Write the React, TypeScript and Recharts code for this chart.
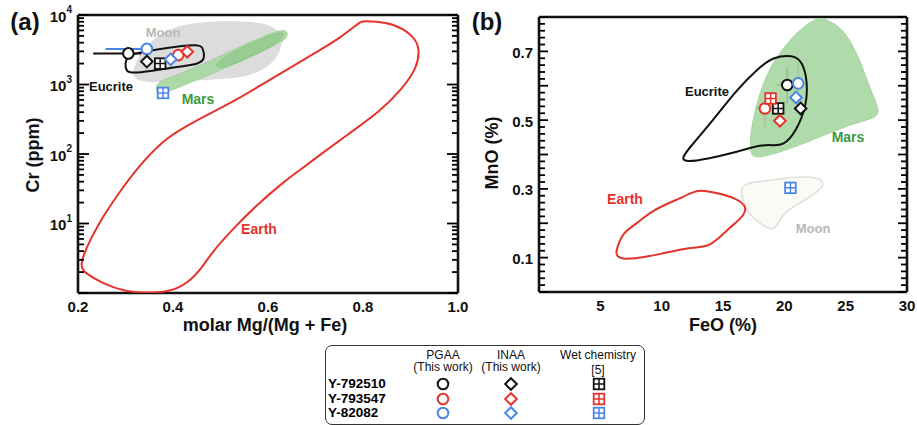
import React from 'react';
import { ScatterChart, Scatter, XAxis, YAxis, ErrorBar } from 'recharts';

const FONT = '"Liberation Sans", Arial, sans-serif';
const SAMPLES = ['Y-792510', 'Y-793547', 'Y-82082'];
const SAMPLE_COLORS: Record<string, string> = {
  'Y-792510': '#111111',
  'Y-793547': '#e5332a',
  'Y-82082': '#4a86e8',
};

// ---- (a) Cr (ppm) vs molar Mg/(Mg + Fe) ----
const aEarth = [
  { x: 0.8, y: 8200 }, { x: 0.85, y: 7850 }, { x: 0.884, y: 6470 }, { x: 0.913, y: 4370 },
  { x: 0.919, y: 2960 }, { x: 0.913, y: 1730 }, { x: 0.884, y: 890 }, { x: 0.836, y: 410 },
  { x: 0.766, y: 187 }, { x: 0.709, y: 97 }, { x: 0.681, y: 69 }, { x: 0.629, y: 38 },
  { x: 0.573, y: 17.5 }, { x: 0.524, y: 8.1 }, { x: 0.481, y: 3.77 }, { x: 0.463, y: 2.4 },
  { x: 0.432, y: 1.39 }, { x: 0.394, y: 1.04 }, { x: 0.347, y: 1.0 }, { x: 0.299, y: 1.04 },
  { x: 0.25, y: 1.39 }, { x: 0.215, y: 1.94 }, { x: 0.204, y: 2.39 }, { x: 0.215, y: 4.16 },
  { x: 0.243, y: 10 }, { x: 0.285, y: 27 }, { x: 0.327, y: 66 }, { x: 0.38, y: 159 },
  { x: 0.421, y: 237 }, { x: 0.471, y: 363 }, { x: 0.541, y: 640 }, { x: 0.597, y: 1100 },
  { x: 0.646, y: 1730 }, { x: 0.703, y: 2960 }, { x: 0.752, y: 4660 }, { x: 0.794, y: 8000 },
];
const aMoon = [
  { x: 0.312, y: 1510 }, { x: 0.335, y: 3140 }, { x: 0.375, y: 5690 }, { x: 0.425, y: 7420 },
  { x: 0.488, y: 8180 }, { x: 0.562, y: 8180 }, { x: 0.608, y: 7180 }, { x: 0.632, y: 5130 },
  { x: 0.627, y: 2940 }, { x: 0.604, y: 1840 }, { x: 0.562, y: 1320 }, { x: 0.509, y: 1200 },
  { x: 0.436, y: 1120 }, { x: 0.355, y: 1050 }, { x: 0.32, y: 1160 },
];
const aMars = [
  { x: 0.362, y: 830 }, { x: 0.373, y: 705 }, { x: 0.415, y: 930 }, { x: 0.492, y: 1520 },
  { x: 0.562, y: 2510 }, { x: 0.625, y: 3920 }, { x: 0.643, y: 4880 }, { x: 0.639, y: 6060 },
  { x: 0.625, y: 6060 }, { x: 0.562, y: 4120 }, { x: 0.484, y: 2250 }, { x: 0.4, y: 1290 },
  { x: 0.368, y: 1100 },
];
const aMarsCore = [
  { x: 0.481, y: 2130 }, { x: 0.492, y: 1450 }, { x: 0.625, y: 3920 }, { x: 0.639, y: 5750 },
  { x: 0.611, y: 5480 },
];
const aEucrite = [
  { x: 0.303, y: 2500 }, { x: 0.32, y: 2830 }, { x: 0.383, y: 3350 }, { x: 0.453, y: 3800 },
  { x: 0.463, y: 3470 }, { x: 0.467, y: 2400 }, { x: 0.459, y: 1970 }, { x: 0.394, y: 1740 },
  { x: 0.314, y: 1420 }, { x: 0.301, y: 1550 }, { x: 0.299, y: 2040 },
];
const aPGAA = [
  { sample: 'Y-792510', x: 0.306, y: 2800, ex: [0.074, 0.094] },
  { sample: 'Y-793547', x: 0.411, y: 2650, ex: [0.081, 0.079] },
  { sample: 'Y-82082', x: 0.345, y: 3250, ex: [0.087, 0.049] },
];
const aINAA = [
  { sample: 'Y-792510', x: 0.345, y: 2140 },
  { sample: 'Y-793547', x: 0.43, y: 2960 },
  { sample: 'Y-82082', x: 0.395, y: 2300 },
];
const aWet = [
  { sample: 'Y-792510', x: 0.373, y: 2000 },
  { sample: 'Y-82082', x: 0.379, y: 755 },
];

// ---- (b) MnO (%) vs FeO (%) ----
const bMars = [
  { x: 23.1, y: 0.797 }, { x: 24.8, y: 0.771 }, { x: 26.2, y: 0.675 }, { x: 27.0, y: 0.588 },
  { x: 27.8, y: 0.53 }, { x: 27.5, y: 0.506 }, { x: 25.6, y: 0.49 }, { x: 23.5, y: 0.46 },
  { x: 22.1, y: 0.44 }, { x: 20.2, y: 0.413 }, { x: 18.0, y: 0.39 }, { x: 17.2, y: 0.393 },
  { x: 17.2, y: 0.46 }, { x: 17.8, y: 0.56 }, { x: 18.8, y: 0.655 }, { x: 20.2, y: 0.724 },
  { x: 21.5, y: 0.771 }, { x: 22.7, y: 0.797 },
];
const bEucrite = [
  { x: 11.5, y: 0.387 }, { x: 12.6, y: 0.433 }, { x: 14.2, y: 0.5 }, { x: 16.1, y: 0.588 },
  { x: 18.0, y: 0.655 }, { x: 19.1, y: 0.684 }, { x: 20.7, y: 0.69 }, { x: 21.5, y: 0.67 },
  { x: 21.9, y: 0.61 }, { x: 21.8, y: 0.54 }, { x: 21.0, y: 0.47 }, { x: 19.9, y: 0.422 },
  { x: 18.8, y: 0.43 }, { x: 17.4, y: 0.422 }, { x: 15.8, y: 0.404 }, { x: 13.7, y: 0.387 },
  { x: 12.1, y: 0.378 },
];
const bEarth = [
  { x: 13.1, y: 0.297 }, { x: 14.5, y: 0.288 }, { x: 16.1, y: 0.273 }, { x: 17.0, y: 0.247 },
  { x: 16.6, y: 0.218 }, { x: 15.6, y: 0.189 }, { x: 14.5, y: 0.151 }, { x: 13.7, y: 0.131 },
  { x: 12.6, y: 0.131 }, { x: 10.1, y: 0.113 }, { x: 8.8, y: 0.102 }, { x: 6.8, y: 0.093 },
  { x: 6.2, y: 0.108 }, { x: 6.4, y: 0.131 }, { x: 6.8, y: 0.172 }, { x: 8.0, y: 0.2 },
  { x: 9.3, y: 0.239 }, { x: 11.2, y: 0.268 }, { x: 12.6, y: 0.291 },
];
const bMoon = [
  { x: 16.4, y: 0.306 }, { x: 17.2, y: 0.32 }, { x: 19.4, y: 0.326 }, { x: 20.7, y: 0.335 },
  { x: 22.9, y: 0.335 }, { x: 23.3, y: 0.311 }, { x: 22.6, y: 0.288 }, { x: 21.0, y: 0.253 },
  { x: 19.9, y: 0.23 }, { x: 19.4, y: 0.189 }, { x: 18.8, y: 0.18 }, { x: 18.0, y: 0.2 },
  { x: 17.0, y: 0.23 }, { x: 16.6, y: 0.268 },
];
const bPGAA = [
  { sample: 'Y-792510', x: 20.24, y: 0.602, ex: [0.84, 0.76], ey: [0.053, 0.053] },
  { sample: 'Y-793547', x: 18.42, y: 0.534, ex: [0.72, 0.78], ey: [0.053, 0.049] },
  { sample: 'Y-82082', x: 21.13, y: 0.607, ex: [0.53, 0.82], ey: [0.058, 0.058] },
];
const bINAA = [
  { sample: 'Y-792510', x: 21.33, y: 0.534 },
  { sample: 'Y-793547', x: 19.64, y: 0.498 },
  { sample: 'Y-82082', x: 20.95, y: 0.566 },
];
const bWet = [
  { sample: 'Y-792510', x: 19.5, y: 0.534 },
  { sample: 'Y-793547', x: 18.88, y: 0.563 },
  { sample: 'Y-82082', x: 20.5, y: 0.303 },
];

// ---- ticks ----
const steps = (a: number, b: number, s: number) =>
  Array.from({ length: Math.round((b - a) / s) + 1 }, (_, i) => +(a + i * s).toFixed(4));

const aXLabels = [0.2, 0.4, 0.6, 0.8, 1.0];
const aXMajor = steps(0.2, 1.0, 0.1);
const aXTicks = steps(0.2, 1.0, 0.05);
const aYLabels = [10, 100, 1000, 10000];
const aYMajor = [1, 10, 100, 1000, 10000];
const aYTicks = [1, 10, 100, 1000].flatMap((d) => [1, 2, 3, 4, 5, 6, 7, 8, 9].map((k) => k * d)).concat(10000);

const bXLabels = [5, 10, 15, 20, 25, 30];
const bXMajor = steps(0, 30, 5);
const bXTicks = steps(0, 30, 1);
const bYLabels = [0.1, 0.3, 0.5, 0.7];
const bYMajor = steps(0, 0.8, 0.1);
const bYTicks = steps(0, 0.8, 0.02);

const near = (v: number, list: number[]) => list.some((m) => Math.abs(m - v) <= 1e-6 * Math.max(1, Math.abs(m)));

const INK = '#111';

function labelTick(side: string, fmt: (v: number) => any) {
  return (p: any) => {
    const v = p.payload.value;
    if (side === 'bottom')
      return (
        <text x={p.x} y={p.y + 19} textAnchor="middle" fontSize={15} fontWeight="bold" fill={INK} fontFamily={FONT}>
          {fmt(v)}
        </text>
      );
    return (
      <text x={p.x - 6} y={p.y + 1} textAnchor="end" dominantBaseline="central" fontSize={15} fontWeight="bold" fill={INK} fontFamily={FONT}>
        {fmt(v)}
      </text>
    );
  };
}

// inward tick mark only
function markTick(side: string, majors: number[], big: number, small: number) {
  return (p: any) => {
    const len = near(p.payload.value, majors) ? big : small;
    let d;
    if (side === 'bottom') d = `M${p.x},${p.y}V${p.y - len}`;
    else if (side === 'top') d = `M${p.x},${p.y}V${p.y + len}`;
    else if (side === 'left') d = `M${p.x},${p.y}H${p.x + len}`;
    else d = `M${p.x},${p.y}H${p.x - len}`;
    return <path d={d} stroke="#000" strokeWidth={1.8} />;
  };
}

const fmt1 = (v: number) => v.toFixed(1);
const fmtInt = (v: number) => String(v);
const fmtPow = (v: number) => (
  <>
    10
    <tspan dy={-7} fontSize={10}>
      {Math.round(Math.log10(v))}
    </tspan>
  </>
);

// ---- markers ----
const noDot = () => <g />;
const drawCircle = (cx: number, cy: number, c: string) => (
  <circle cx={cx} cy={cy} r={5.3} fill="#fff" stroke={c} strokeWidth={2} />
);
const drawDiamond = (cx: number, cy: number, c: string) => (
  <path d={`M${cx},${cy - 5.8}L${cx + 5.8},${cy}L${cx},${cy + 5.8}L${cx - 5.8},${cy}Z`} fill="#fff" stroke={c} strokeWidth={2} />
);
const drawSquare = (cx: number, cy: number, c: string) => (
  <g>
    <rect x={cx - 5.3} y={cy - 5.3} width={10.6} height={10.6} fill="#fff" stroke={c} strokeWidth={1.8} />
    <path d={`M${cx},${cy - 5.3}V${cy + 5.3}M${cx - 5.3},${cy}H${cx + 5.3}`} stroke={c} strokeWidth={1.5} />
  </g>
);
const shapeOf = (draw: typeof drawCircle) => (p: any) => draw(p.cx, p.cy, SAMPLE_COLORS[p.payload.sample]);

function region(key: string, data: any[], stroke: string, fill: string, width: number, opacity = 1) {
  return (
    <Scatter
      key={key}
      data={data}
      shape={noDot}
      line={{ stroke, fill, strokeWidth: width, fillOpacity: opacity }}
      lineJointType="basisClosed"
      isAnimationActive={false}
    />
  );
}

function samplePoints(prefix: string, pgaa: any[], inaa: any[], wet: any[], withY: boolean) {
  const out: any[] = [];
  SAMPLES.forEach((s) => {
    const d = pgaa.filter((p) => p.sample === s);
    out.push(
      <Scatter key={`${prefix}-p-${s}`} data={d} shape={shapeOf(drawCircle)} isAnimationActive={false}>
        <ErrorBar dataKey="ex" direction="x" width={0} stroke={SAMPLE_COLORS[s]} strokeWidth={2} />
        {withY && <ErrorBar dataKey="ey" direction="y" width={0} stroke={SAMPLE_COLORS[s]} strokeWidth={2} />}
      </Scatter>
    );
  });
  out.push(<Scatter key={`${prefix}-w`} data={wet} shape={shapeOf(drawSquare)} isAnimationActive={false} />);
  out.push(<Scatter key={`${prefix}-i`} data={inaa} shape={shapeOf(drawDiamond)} isAnimationActive={false} />);
  return out;
}

const frame = { stroke: INK, strokeWidth: 2.6 };

const A_SIZE = { width: 475, height: 340, margin: { top: 14, right: 16, bottom: 0, left: 0 } };
const B_SIZE = { width: 457, height: 340, margin: { top: 16, right: 9, bottom: 0, left: 0 } };

function PanelA() {
  return (
    <ScatterChart {...A_SIZE}>
      <XAxis type="number" dataKey="x" domain={[0.2, 1]} ticks={aXLabels} interval={0} allowDataOverflow
        tickLine={false} tickSize={0} tickMargin={0} height={47} axisLine={frame} tick={labelTick('bottom', fmt1)} />
      <XAxis xAxisId="top" orientation="top" type="number" domain={[0.2, 1]} allowDataOverflow
        tickLine={false} tick={false} height={1} axisLine={frame} />
      <YAxis type="number" dataKey="y" scale="log" domain={[1, 10000]} ticks={aYLabels} interval={0} allowDataOverflow
        tickLine={false} tickSize={0} tickMargin={0} width={78} axisLine={frame} tick={labelTick('left', fmtPow)} />
      <YAxis yAxisId="right" orientation="right" type="number" scale="log" domain={[1, 10000]} allowDataOverflow
        tickLine={false} tick={false} width={1} axisLine={frame} />
      {region('moon', aMoon, 'none', '#dcdcdc', 0)}
      {region('mars', aMars, '#9fd19a', '#a6d6a0', 1, 0.9)}
      {region('marscore', aMarsCore, '#8cc487', '#93c98e', 1, 0.8)}
      {region('earth', aEarth, '#e5332a', 'none', 2)}
      {region('eucrite', aEucrite, INK, 'none', 2)}
      {samplePoints('a', aPGAA, aINAA, aWet, false)}
    </ScatterChart>
  );
}

function PanelB() {
  return (
    <ScatterChart {...B_SIZE}>
      <XAxis type="number" dataKey="x" domain={[0, 30]} ticks={bXLabels} interval={0} allowDataOverflow
        tickLine={false} tickSize={0} tickMargin={0} height={48} axisLine={frame} tick={labelTick('bottom', fmtInt)} />
      <XAxis xAxisId="top" orientation="top" type="number" domain={[0, 30]} allowDataOverflow
        tickLine={false} tick={false} height={1} axisLine={frame} />
      <YAxis type="number" dataKey="y" domain={[0, 0.8]} ticks={bYLabels} interval={0} allowDataOverflow
        tickLine={false} tickSize={0} tickMargin={0} width={79} axisLine={frame} tick={labelTick('left', fmt1)} />
      <YAxis yAxisId="right" orientation="right" type="number" domain={[0, 0.8]} allowDataOverflow
        tickLine={false} tick={false} width={1} axisLine={frame} />
      {region('mars', bMars, '#a6d6a0', '#a6d6a0', 1, 0.9)}
      {region('moon', bMoon, '#dedede', '#fbfbf6', 1.5)}
      {region('earth', bEarth, '#e5332a', 'none', 2)}
      {region('eucrite', bEucrite, INK, 'none', 2)}
      {samplePoints('b', bPGAA, bINAA, bWet, true)}
    </ScatterChart>
  );
}

// second chart with the same axes, drawn on top, that only carries the inward tick marks
function TickLayer({ size, xDom, yDom, log, xTicks, xMajor, yTicks, yMajor, bottomH, leftW, xLen, yLen }: any) {
  const common = { type: 'number' as const, interval: 0, allowDataOverflow: true, tickLine: false, tickSize: 0, tickMargin: 0, axisLine: false };
  return (
    <ScatterChart {...size}>
      <XAxis {...common} domain={xDom} ticks={xTicks} height={bottomH} tick={markTick('bottom', xMajor, xLen[0], xLen[1])} />
      <XAxis {...common} xAxisId="top" orientation="top" domain={xDom} ticks={xTicks} height={1} tick={markTick('top', xMajor, xLen[0], xLen[2])} />
      <YAxis {...common} domain={yDom} scale={log ? 'log' : 'auto'} ticks={yTicks} width={leftW} tick={markTick('left', yMajor, yLen[0], yLen[1])} />
      <YAxis {...common} yAxisId="right" orientation="right" domain={yDom} scale={log ? 'log' : 'auto'} ticks={yTicks} width={1} tick={markTick('right', yMajor, yLen[0], yLen[1])} />
    </ScatterChart>
  );
}

function Txt({ x, y, children, size = 14, color = INK, weight = 'bold', rotate = 0 }: any) {
  return (
    <div
      style={{
        position: 'absolute', left: x, top: y, transform: `translate(-50%, -50%) rotate(${rotate}deg)`,
        fontSize: size, color, fontWeight: weight, fontFamily: FONT, whiteSpace: 'nowrap', lineHeight: 1,
      }}
    >
      {children}
    </div>
  );
}

function LegendIcon({ draw, color }: any) {
  return (
    <svg width={16} height={16} style={{ display: 'block' }}>
      {draw(8, 8, color)}
    </svg>
  );
}

function LegendBox() {
  const cols = [117, 185, 273];
  const rows = [38, 53, 67];
  const draws = [drawCircle, drawDiamond, drawSquare];
  return (
    <div style={{ position: 'absolute', left: 325, top: 345, width: 320, height: 80, border: '1.5px solid #333', borderRadius: 7, boxSizing: 'border-box' }}>
      <Txt x={117} y={8.5} size={12} weight="normal">PGAA</Txt>
      <Txt x={117} y={21} size={12} weight="normal">(This work)</Txt>
      <Txt x={185} y={8.5} size={12} weight="normal">INAA</Txt>
      <Txt x={185} y={21} size={12} weight="normal">(This work)</Txt>
      <Txt x={272} y={8.5} size={12} weight="normal">Wet chemistry</Txt>
      <Txt x={272} y={24} size={12} weight="normal">[5]</Txt>
      {SAMPLES.map((s, i) => (
        <React.Fragment key={s}>
          <div style={{ position: 'absolute', left: 2, top: rows[i] - 6, fontSize: 13.5, fontWeight: 'bold', fontFamily: FONT, lineHeight: '12px' }}>{s}</div>
          {cols.map((c, j) => (
            <div key={c} style={{ position: 'absolute', left: c - 8, top: rows[i] - 8 }}>
              <LegendIcon draw={draws[j]} color={SAMPLE_COLORS[s]} />
            </div>
          ))}
        </React.Fragment>
      ))}
    </div>
  );
}

export default function App() {
  return (
    <div style={{ position: 'absolute', left: 0, top: 0, width: 917, height: 425, fontFamily: FONT }}>
      <div style={{ position: 'absolute', left: 0, top: 0 }}>
        <PanelA />
      </div>
      <div style={{ position: 'absolute', left: 460, top: 0 }}>
        <PanelB />
      </div>
      <div style={{ position: 'absolute', left: 0, top: 0, pointerEvents: 'none' }}>
        <TickLayer size={A_SIZE} xDom={[0.2, 1]} yDom={[1, 10000]} log xTicks={aXTicks} xMajor={aXMajor}
          yTicks={aYTicks} yMajor={aYMajor} bottomH={47} leftW={78} xLen={[9, 7, 8]} yLen={[11, 6]} />
      </div>
      <div style={{ position: 'absolute', left: 460, top: 0, pointerEvents: 'none' }}>
        <TickLayer size={B_SIZE} xDom={[0, 30]} yDom={[0, 0.8]} log={false} xTicks={bXTicks} xMajor={bXMajor}
          yTicks={bYTicks} yMajor={bYMajor} bottomH={48} leftW={79} xLen={[9, 5, 5]} yLen={[9, 6]} />
      </div>
      <Txt x={25} y={22} size={24}>(a)</Txt>
      <Txt x={487} y={22} size={24}>(b)</Txt>
      <Txt x={33} y={155} size={18} rotate={-90}>Cr (ppm)</Txt>
      <Txt x={492} y={153} size={18} rotate={-90}>MnO (%)</Txt>
      <Txt x={265} y={325} size={18}>molar Mg/(Mg + Fe)</Txt>
      <Txt x={723} y={325} size={18}>FeO (%)</Txt>
      <Txt x={163} y={32} size={13} color="#b8b8b8">Moon</Txt>
      <Txt x={111} y={86} size={13}>Eucrite</Txt>
      <Txt x={198} y={99} size={14} color="#3c9a3c">Mars</Txt>
      <Txt x={259} y={229} size={14} color="#e5332a">Earth</Txt>
      <Txt x={707} y={91} size={13}>Eucrite</Txt>
      <Txt x={848} y={137} size={14} color="#3c9a3c">Mars</Txt>
      <Txt x={625} y={199} size={14} color="#e5332a">Earth</Txt>
      <Txt x={813} y={228} size={13} color="#b8b8b8">Moon</Txt>
      <LegendBox />
    </div>
  );
}
